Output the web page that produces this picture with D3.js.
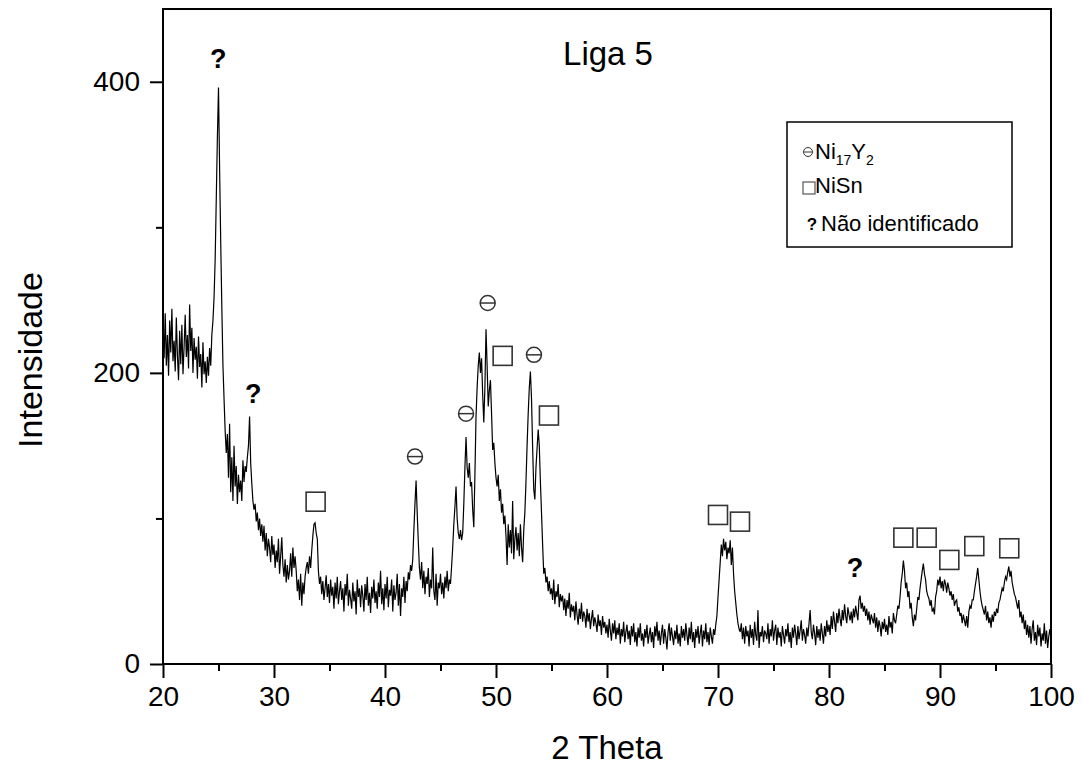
<!DOCTYPE html>
<html>
<head>
<meta charset="utf-8">
<script src="https://cdn.jsdelivr.net/npm/d3@7"></script>
<style>
	body { margin: 0; background: #fff; }
	svg { display: block; font-family: Arial, "Liberation Sans", sans-serif; }
</style>
</head>
<body>
<svg id="chart" width="1083" height="769"></svg>
<script>
// scan: 20 -> 100 deg, one reading every 0.1 deg (one row per degree)
const angleStart = 20;
const angleStep = 0.1;
const intensity = [
	232, 210, 241, 205, 226, 198, 236, 214, 244, 208,   // 20
	222, 201, 238, 212, 195, 229, 206, 233, 199, 218,   // 21
	240, 211, 226, 203, 247, 215, 231, 200, 224, 209,   // 22
	218, 196, 225, 204, 213, 190, 221, 199, 208, 193,   // 23
	211, 198, 217, 205, 226, 236, 252, 278, 320, 362,   // 24
	396, 340, 290, 245, 205, 182, 160, 145, 158, 128,   // 25
	165, 118, 142, 112, 150, 122, 136, 110, 130, 118,   // 26
	126, 112, 140, 125, 136, 132, 142, 150, 170, 138,   // 27
	124, 112, 106, 110, 98, 104, 92, 100, 88, 96,       // 28
	84, 95, 78, 90, 74, 86, 80, 70, 88, 75,             // 29
	82, 66, 78, 70, 86, 62, 74, 87, 68, 60,             // 30
	72, 56, 68, 58, 64, 76, 60, 80, 66, 74,             // 31
	64, 50, 58, 44, 62, 40, 56, 48, 60, 66,             // 32
	70, 62, 74, 66, 78, 88, 96, 97, 90, 86,             // 33
	64, 55, 60, 48, 57, 44, 52, 61, 46, 55,             // 34
	42, 58, 47, 53, 38, 56, 45, 60, 41, 50,             // 35
	57, 44, 52, 36, 55, 47, 62, 40, 51, 45,             // 36
	38, 56, 43, 50, 34, 58, 46, 52, 39, 54,             // 37
	47, 36, 55, 44, 60, 40, 49, 35, 53, 45,             // 38
	58, 42, 50, 38, 56, 46, 64, 41, 52, 37,             // 39
	55, 45, 60, 39, 51, 47, 58, 36, 54, 44,             // 40
	49, 62, 40, 55, 33, 52, 46, 60, 42, 57,             // 41
	50, 63, 58, 68, 64, 72, 92, 110, 126, 104,          // 42
	84, 66, 58, 70, 52, 64, 48, 60, 55, 66,             // 43
	46, 58, 52, 80, 50, 44, 62, 40, 56, 52,             // 44
	62, 48, 56, 45, 60, 52, 64, 50, 58, 55,             // 45
	67, 80, 96, 108, 122, 100, 90, 86, 92, 85,          // 46
	90, 110, 135, 156, 135, 128, 138, 122, 125, 106,    // 47
	94, 130, 170, 190, 205, 214, 200, 210, 185, 166,    // 48
	190, 230, 205, 177, 188, 195, 172, 147, 152, 138,   // 49
	128, 122, 130, 112, 120, 104, 110, 96, 102, 88,     // 50
	68, 96, 80, 92, 76, 112, 72, 86, 94, 78,            // 51
	90, 74, 96, 80, 70, 92, 104, 125, 150, 172,         // 52
	190, 201, 182, 149, 120, 113, 135, 148, 161, 150,   // 53
	125, 104, 82, 62, 66, 56, 60, 50, 57, 48,           // 54
	52, 44, 58, 41, 50, 46, 55, 39, 48, 43,             // 55
	47, 37, 45, 33, 44, 38, 49, 32, 41, 36,             // 56
	40, 30, 43, 34, 27, 38, 31, 42, 29, 36,             // 57
	33, 25, 38, 29, 35, 24, 31, 37, 26, 32,             // 58
	28, 22, 34, 26, 30, 20, 33, 25, 29, 21,             // 59
	27, 18, 31, 23, 16, 28, 21, 30, 17, 25,             // 60
	20, 28, 14, 24, 19, 29, 15, 22, 27, 17,             // 61
	23, 13, 26, 19, 28, 15, 22, 12, 25, 18,             // 62
	28, 16, 21, 12, 24, 18, 27, 14, 20, 25,             // 63
	15, 22, 11, 26, 19, 29, 16, 23, 13, 21,             // 64
	27, 14, 24, 18, 10, 22, 28, 16, 25, 19,             // 65
	13, 23, 17, 27, 14, 21, 12, 26, 18, 24,             // 66
	16, 28, 20, 13, 25, 17, 29, 15, 22, 11,             // 67
	24, 18, 26, 14, 21, 27, 12, 23, 17, 28,             // 68
	15, 22, 13, 25, 19, 14, 24, 20, 27, 33,             // 69
	46, 58, 70, 82, 74, 86, 78, 84, 72, 80,             // 70
	76, 85, 68, 80, 62, 50, 42, 34, 28, 24,             // 71
	22, 28, 17, 25, 14, 26, 19, 23, 12, 27,             // 72
	18, 24, 13, 29, 20, 16, 37, 11, 22, 19,             // 73
	26, 15, 23, 21, 17, 28, 14, 24, 19, 30,             // 74
	16, 23, 27, 13, 25, 18, 22, 12, 26, 20,             // 75
	14, 24, 19, 28, 15, 22, 11, 25, 18, 27,             // 76
	21, 13, 26, 17, 23, 30, 16, 24, 20, 14,             // 77
	25, 19, 28, 37, 22, 17, 27, 21, 13, 26,             // 78
	18, 24, 16, 28, 21, 14, 26, 19, 30, 22,             // 79
	27, 20, 33, 24, 36, 29, 22, 35, 28, 38,             // 80
	31, 26, 37, 30, 41, 33, 28, 39, 34, 30,             // 81
	36, 28, 38, 32, 40, 35, 30, 44, 47, 38,             // 82
	42, 36, 40, 33, 38, 30, 36, 27, 34, 31,             // 83
	28, 35, 25, 32, 22, 30, 26, 19, 29, 24,             // 84
	31, 22, 27, 20, 33, 25, 29, 21, 35, 30,             // 85
	28, 34, 40, 38, 46, 56, 62, 71, 64, 52,             // 86
	56, 46, 50, 38, 42, 32, 26, 34, 30, 38,             // 87
	46, 44, 52, 58, 64, 69, 62, 58, 50, 47,             // 88
	45, 40, 44, 36, 38, 34, 46, 50, 58, 54,             // 89
	60, 52, 57, 50, 58, 55, 49, 56, 52, 47,             // 90
	50, 44, 48, 40, 43, 44, 36, 39, 33, 35,             // 91
	28, 34, 30, 26, 33, 25, 36, 40, 38, 44,             // 92
	44, 50, 55, 60, 66, 58, 50, 44, 40, 37,             // 93
	34, 40, 30, 36, 28, 32, 25, 34, 29, 36,             // 94
	33, 38, 35, 42, 44, 48, 52, 50, 56, 60,             // 95
	58, 63, 67, 60, 64, 56, 52, 48, 46, 42,             // 96
	38, 44, 32, 36, 28, 34, 24, 30, 20, 27,             // 97
	18, 26, 14, 24, 30, 16, 22, 13, 27, 19,             // 98
	25, 12, 21, 16, 28, 14, 23, 11, 19, 24,             // 99
	18                                                  // 100
];

// phase marks [2theta, intensity]
const ni17y2Marks = [[42.7, 142.5], [47.3, 172], [49.25, 248], [53.42, 212.4]];
const niSnMarks = [[33.75, 111.5], [50.6, 211.7], [54.77, 170.7], [70.0, 102.4], [71.98, 97.8],
	[86.7, 86.8], [88.8, 86.8], [90.84, 71.5], [93.09, 81], [96.24, 79.5]];
const unknownMarks = [[24.98, 416], [28.14, 186], [82.34, 66.9]];

const xMajorTicks = [20, 30, 40, 50, 60, 70, 80, 90, 100];
const xMinorTicks = [25, 35, 45, 55, 65, 75, 85, 95];
const yMajorTicks = [0, 200, 400];
const yMinorTicks = [100, 300];

const chartTitle = "Liga 5";
const xTitle = "2 Theta";
const yTitle = "Intensidade";

const margin = { left: 163, right: 1051, top: 9, bottom: 664 };

const svg = d3.select("#chart");

const x = d3.scaleLinear().domain([20, 100]).range([margin.left, margin.right]);
const y = d3.scaleLinear().domain([0, 450]).range([margin.bottom, margin.top]);

// minor ticks first, labels off
svg.append("g")
	.attr("transform", `translate(0,${margin.bottom})`)
	.call(d3.axisBottom(x).tickValues(xMinorTicks).tickSize(7).tickFormat(""))
	.call(g => g.select(".domain").remove());
svg.append("g")
	.attr("transform", `translate(${margin.left},0)`)
	.call(d3.axisLeft(y).tickValues(yMinorTicks).tickSize(7).tickFormat(""))
	.call(g => g.select(".domain").remove());

let xAxis = svg.append("g")
	.attr("transform", `translate(0,${margin.bottom})`)
	.call(d3.axisBottom(x).tickValues(xMajorTicks).tickSize(14).tickPadding(8).tickFormat(d3.format("d")));
xAxis.select(".domain").remove();

let yAxis = svg.append("g")
	.attr("transform", `translate(${margin.left},0)`)
	.call(d3.axisLeft(y).tickValues(yMajorTicks).tickSize(13).tickPadding(10).tickFormat(d3.format("d")));
yAxis.select(".domain").remove();

svg.selectAll(".tick line").attr("stroke", "#000").attr("stroke-width", 2);
svg.selectAll(".tick text").attr("font-size", 28).attr("fill", "#000")
	.attr("font-family", "Arial, 'Liberation Sans', sans-serif");

// frame
svg.append("rect")
	.attr("x", margin.left).attr("y", margin.top)
	.attr("width", margin.right - margin.left)
	.attr("height", margin.bottom - margin.top)
	.attr("fill", "none").attr("stroke", "#000").attr("stroke-width", 2);

// pattern
const line = d3.line()
	.x((d, i) => x(angleStart + i * angleStep))
	.y(d => y(d));

svg.append("path")
	.datum(intensity)
	.attr("d", line)
	.attr("fill", "none")
	.attr("stroke", "#000")
	.attr("stroke-width", 1.2);

// marks
const markColor = "#333";

let thetaG = svg.append("g").selectAll("g")
	.data(ni17y2Marks).join("g")
	.attr("transform", d => `translate(${x(d[0])},${y(d[1])})`);
thetaG.append("circle").attr("r", 7.5)
	.attr("fill", "#fff").attr("stroke", markColor).attr("stroke-width", 1.5);
thetaG.append("line").attr("x1", -7.5).attr("x2", 7.5)
	.attr("stroke", markColor).attr("stroke-width", 1.5);

svg.append("g").selectAll("rect")
	.data(niSnMarks).join("rect")
	.attr("x", d => x(d[0]) - 9.5)
	.attr("y", d => y(d[1]) - 9.5)
	.attr("width", 19).attr("height", 19)
	.attr("fill", "#fff").attr("stroke", markColor).attr("stroke-width", 1.6);

svg.append("g").selectAll("text")
	.data(unknownMarks).join("text")
	.attr("x", d => x(d[0]))
	.attr("y", d => y(d[1]) + 10)
	.attr("text-anchor", "middle")
	.attr("font-size", 27).attr("font-weight", "bold")
	.text("?");

// titles
svg.append("text")
	.attr("x", 608).attr("y", 65)
	.attr("text-anchor", "middle")
	.attr("font-size", 33)
	.text(chartTitle);

svg.append("text")
	.attr("x", (margin.left + margin.right) / 2).attr("y", 759)
	.attr("text-anchor", "middle")
	.attr("font-size", 33)
	.text(xTitle);

svg.append("text")
	.attr("transform", "translate(42,360) rotate(-90)")
	.attr("text-anchor", "middle")
	.attr("font-size", 34)
	.text(yTitle);

// legend
let legend = svg.append("g");
legend.append("rect")
	.attr("x", 787).attr("y", 122)
	.attr("width", 225).attr("height", 125)
	.attr("fill", "#fff").attr("stroke", "#000").attr("stroke-width", 1.5);

legend.append("circle").attr("cx", 808).attr("cy", 152).attr("r", 4.5)
	.attr("fill", "none").attr("stroke", markColor).attr("stroke-width", 1);
legend.append("line").attr("x1", 803.5).attr("x2", 812.5).attr("y1", 152).attr("y2", 152)
	.attr("stroke", markColor).attr("stroke-width", 1);
let t1 = legend.append("text").attr("x", 815).attr("y", 159).attr("font-size", 22);
t1.append("tspan").text("Ni");
t1.append("tspan").attr("font-size", 14).attr("dy", 6).text("17");
t1.append("tspan").attr("dy", -6).text("Y");
t1.append("tspan").attr("font-size", 14).attr("dy", 6).text("2");

legend.append("rect").attr("x", 803).attr("y", 182).attr("width", 12).attr("height", 12)
	.attr("fill", "none").attr("stroke", "#555").attr("stroke-width", 1.2);
legend.append("text").attr("x", 815).attr("y", 193).attr("font-size", 22).text("NiSn");

legend.append("text").attr("x", 812).attr("y", 230).attr("text-anchor", "middle")
	.attr("font-size", 17).attr("font-weight", "bold").text("?");
legend.append("text").attr("x", 821).attr("y", 231).attr("font-size", 22).text("Não identificado");
</script>
</body>
</html>
